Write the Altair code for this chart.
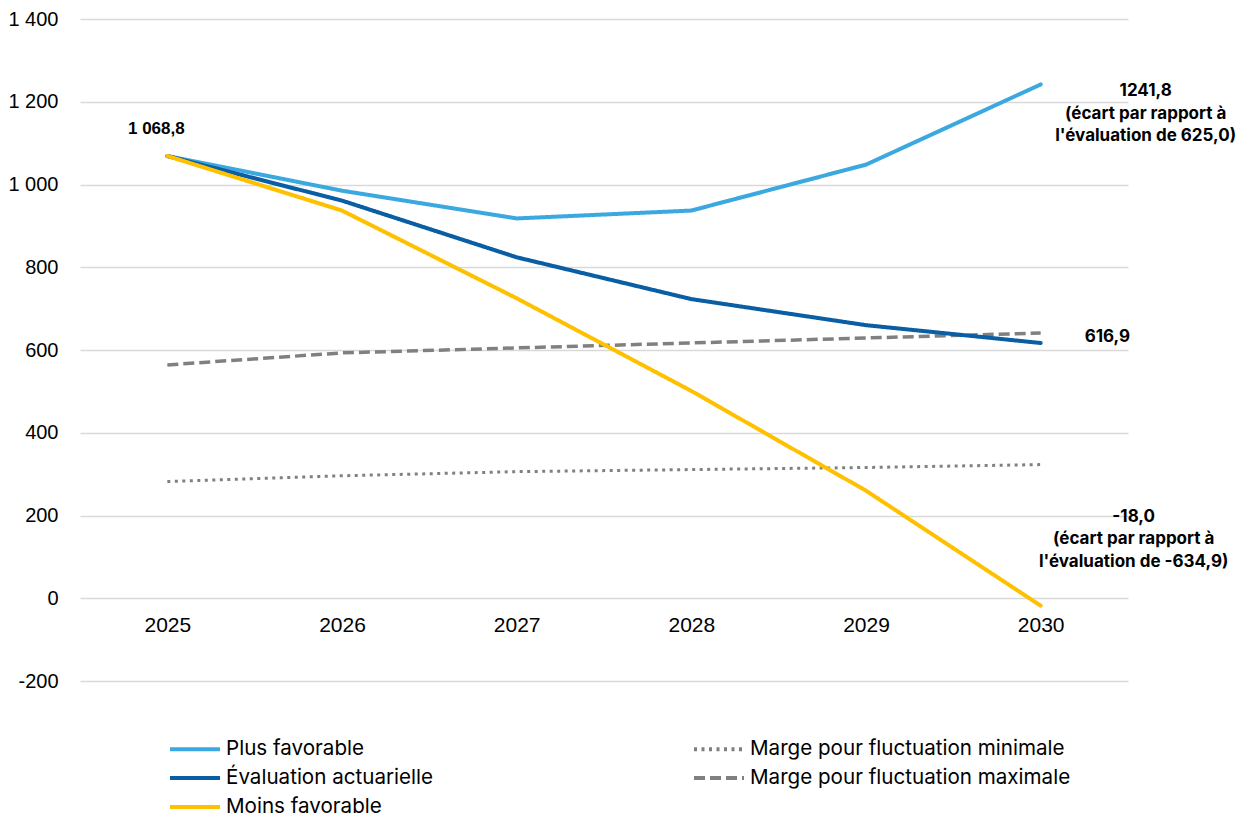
import altair as alt
import pandas as pd

years = ["2025", "2026", "2027", "2028", "2029", "2030"]
plus_favorable = [1068.8, 985, 918, 937, 1048, 1241.8]
evaluation = [1068.8, 961, 824, 723, 660, 616.9]
moins_favorable = [1068.8, 937, 725, 501, 260, -18.0]
marge_min = [282, 296, 306, 311, 316, 323]
marge_max = [564, 593, 605, 617, 629, 641]

series_names = [
    "Plus favorable",
    "Évaluation actuarielle",
    "Moins favorable",
    "Marge pour fluctuation minimale",
    "Marge pour fluctuation maximale",
]
series_values = [plus_favorable, evaluation, moins_favorable, marge_min, marge_max]

label_start = ["1 068,8"]
label_plus = ["1241,8", "(écart par rapport à", "l'évaluation de 625,0)"]
label_eval = ["616,9"]
label_moins = ["-18,0", "(écart par rapport à", "l'évaluation de -634,9)"]

rows = []
for i, (name, vals) in enumerate(zip(series_names, series_values)):
    for y, v in zip(years, vals):
        rows.append({"year": y, "value": v, "series": name, "idx": i})
df = pd.DataFrame(rows)

colors = ["#3BA9E0", "#0A5EA3", "#FFC000", "#808080", "#808080"]
dashes = [[1, 0], [1, 0], [1, 0], [3, 4.5], [11, 5]]

x_enc = alt.X("year:O", scale=alt.Scale(type="point", padding=0.5),
              axis=alt.Axis(title=None, domain=False, ticks=False, grid=False,
                            labelAngle=0, labelFontSize=21, labelFont="Liberation Sans",
                            labelColor="#000000", labelPadding=16, offset=-83))
y_enc = alt.Y("value:Q", scale=alt.Scale(domain=[-200, 1400], nice=False),
              axis=alt.Axis(title=None, domain=False, ticks=False, values=list(range(-200, 1401, 200)),
                            gridColor="#D9D9D9", gridWidth=1.5, labelFontSize=20,
                            labelFont="Liberation Sans", labelColor="#000000", labelPadding=22,
                            labelExpr="replace(replace(format(datum.value, ','), ',', ' '), '\u2212', '-')"))

legend = alt.Legend(title=None, orient="none", legendX=88, legendY=718,
                    columns=2, columnPadding=252, rowPadding=6,
                    symbolType="M-1,0H4", symbolSize=400, symbolStrokeWidth=4,
                    labelFontSize=20.6, labelFont="Inter", labelColor="#000000",
                    labelOffset=34, labelLimit=500)
color_enc = alt.Color("series:N", scale=alt.Scale(domain=series_names, range=colors), legend=legend)
dash_enc = alt.StrokeDash("series:N", scale=alt.Scale(domain=series_names, range=dashes), legend=legend)

base = alt.Chart(df).encode(x=x_enc, y=y_enc, color=color_enc, strokeDash=dash_enc,
                            order=alt.Order("idx:Q"), detail="series:N")

min_line = base.mark_line(strokeWidth=3, strokeCap="butt").transform_filter(
    alt.datum.series == series_names[3])
max_line = base.mark_line(strokeWidth=3.5, strokeCap="butt").transform_filter(
    alt.datum.series == series_names[4])
main_lines = base.mark_line(strokeWidth=4, strokeCap="round").transform_filter(
    alt.datum.idx < 3)

start_df = pd.DataFrame({"year": [years[0]], "value": [evaluation[0]]})
plus_df = pd.DataFrame({"year": [years[-1]], "value": [plus_favorable[-1]]})
eval_df = pd.DataFrame({"year": [years[-1]], "value": [evaluation[-1]]})
moins_df = pd.DataFrame({"year": [years[-1]], "value": [moins_favorable[-1]]})

t_start = alt.Chart(start_df).mark_text(text=label_start, fontWeight="bold", fontSize=17,
                                        font="Liberation Sans", dx=-11, dy=-27, baseline="middle",
                                        color="#000000").encode(x="year:O", y="value:Q")
t_plus = alt.Chart(plus_df).mark_text(text=label_plus, fontWeight="bold", fontSize=17, font="Inter",
                                      dx=105, dy=-1, baseline="top", align="center", lineHeight=22.5,
                                      color="#000000").encode(x="year:O", y="value:Q")
t_eval = alt.Chart(eval_df).mark_text(text=label_eval, fontWeight="bold", fontSize=17, font="Inter",
                                      dx=44, dy=-6, baseline="middle", align="left",
                                      color="#000000").encode(x="year:O", y="value:Q")
t_moins = alt.Chart(moins_df).mark_text(text=label_moins, fontWeight="bold", fontSize=17, font="Inter",
                                        dx=93, dy=-97, baseline="top", align="center", lineHeight=22.5,
                                        color="#000000").encode(x="year:O", y="value:Q")

chart = alt.layer(min_line, max_line, main_lines, t_start, t_plus, t_eval, t_moins).properties(
    width=1048, height=662,
    background="#FFFFFF",
    autosize=alt.AutoSizeParams(type="none"),
    padding={"left": 72, "top": 11, "right": 110, "bottom": 137},
).configure_view(stroke=None)

chart.save("out.html", embed_options={"renderer": "svg", "actions": False})
